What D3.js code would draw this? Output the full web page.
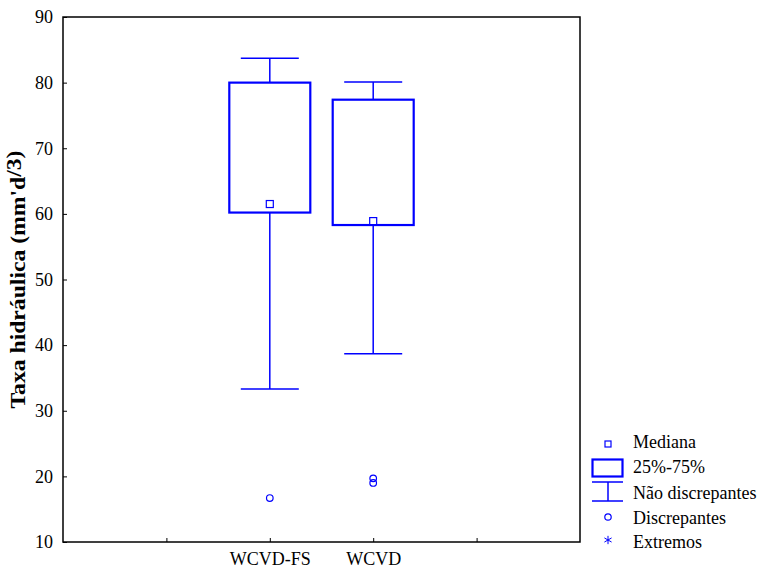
<!DOCTYPE html>
<html>
<head>
<meta charset="utf-8">
<script src="https://cdn.jsdelivr.net/npm/d3@7"></script>
<style>
  body { margin: 0; background: #fff; }
  text { font-family: "Liberation Serif", "Times New Roman", serif; }
</style>
</head>
<body>
<svg id="chart" width="765" height="571"></svg>
<script>
// dados
var categories = ['WCVD-FS', 'WCVD'];
var medians   = [61.5, 58.9];
var q1        = [60.2, 58.3];
var q3        = [80.0, 77.4];
var whiskLow  = [33.3, 38.7];
var whiskHigh = [83.7, 80.1];
var outliers  = [[16.7], [19.7, 19.0]];
var yTicks    = [10, 20, 30, 40, 50, 60, 70, 80, 90];
var legendLabels = ['Mediana', '25%-75%', 'Não discrepantes', 'Discrepantes', 'Extremos'];

var blue = '#0000ff';
var svg = d3.select('#chart');
var pLeft = 63, pRight = 580, pTop = 17, pBottom = 542;

var y = d3.scaleLinear().domain([10, 90]).range([pBottom, pTop]);
// 5 slots, categories sit at the 2nd and 3rd ticks
var x = d3.scaleLinear().domain([0, 5]).range([pLeft, pRight]);
var catPos = function(i) { return x(i + 2); };

// frame
svg.append('rect')
  .attr('x', pLeft).attr('y', pTop)
  .attr('width', pRight - pLeft).attr('height', pBottom - pTop)
  .attr('fill', 'none').attr('stroke', '#000').attr('stroke-width', 1.5);

// y axis (ticks inside)
var yAxis = d3.axisLeft(y).tickValues(yTicks).tickSizeInner(-4).tickSizeOuter(0).tickPadding(10);
var gy = svg.append('g').attr('transform', 'translate(' + pLeft + ',0)').call(yAxis);
gy.select('.domain').remove();
gy.selectAll('line').attr('stroke', '#000');
gy.selectAll('text').attr('font-size', 18).attr('fill', '#000')
  .attr('font-family', '"Liberation Serif", serif');

// x axis (ticks inside)
var xAxis = d3.axisBottom(x).tickValues([1, 2, 3, 4]).tickSizeInner(-4).tickSizeOuter(0).tickPadding(10)
  .tickFormat(function(d) { return categories[d - 2] || ''; });
var gx = svg.append('g').attr('transform', 'translate(0,' + pBottom + ')').call(xAxis);
gx.select('.domain').remove();
gx.selectAll('line').attr('stroke', '#000');
gx.selectAll('text').attr('font-size', 18).attr('fill', '#000')
  .attr('font-family', '"Liberation Serif", serif');

// y label
var yl = svg.append('text')
  .attr('transform', 'translate(25,' + ((pTop + pBottom) / 2) + ') rotate(-90)')
  .attr('text-anchor', 'middle')
  .attr('font-size', 22).attr('font-weight', 'bold')
  .attr('textLength', 258).attr('lengthAdjust', 'spacingAndGlyphs');
yl.append('tspan').text("Taxa hidráulica (mm'd");
yl.append('tspan').attr('dy', -4).text('/3)');

// boxes
var boxW = 81, capW = 58;
var groups = svg.selectAll('g.box').data(categories).enter().append('g').attr('class', 'box');

groups.append('line')
  .attr('x1', function(d, i) { return catPos(i); })
  .attr('x2', function(d, i) { return catPos(i); })
  .attr('y1', function(d, i) { return y(whiskHigh[i]); })
  .attr('y2', function(d, i) { return y(q3[i]); })
  .attr('stroke', blue).attr('stroke-width', 1.5);
groups.append('line')
  .attr('x1', function(d, i) { return catPos(i); })
  .attr('x2', function(d, i) { return catPos(i); })
  .attr('y1', function(d, i) { return y(q1[i]); })
  .attr('y2', function(d, i) { return y(whiskLow[i]); })
  .attr('stroke', blue).attr('stroke-width', 1.5);
[whiskHigh, whiskLow].forEach(function(arr) {
  groups.append('line')
    .attr('x1', function(d, i) { return catPos(i) - capW / 2; })
    .attr('x2', function(d, i) { return catPos(i) + capW / 2; })
    .attr('y1', function(d, i) { return y(arr[i]); })
    .attr('y2', function(d, i) { return y(arr[i]); })
    .attr('stroke', blue).attr('stroke-width', 1.5);
});
groups.append('rect')
  .attr('x', function(d, i) { return catPos(i) - boxW / 2; })
  .attr('y', function(d, i) { return y(q3[i]); })
  .attr('width', boxW)
  .attr('height', function(d, i) { return y(q1[i]) - y(q3[i]); })
  .attr('fill', 'none').attr('stroke', blue).attr('stroke-width', 2.2);
groups.append('rect')
  .attr('x', function(d, i) { return catPos(i) - 3.5; })
  .attr('y', function(d, i) { return y(medians[i]) - 3.5; })
  .attr('width', 7).attr('height', 7)
  .attr('fill', '#fff').attr('stroke', blue).attr('stroke-width', 1.2);
groups.each(function(d, i) {
  d3.select(this).selectAll('circle').data(outliers[i]).enter().append('circle')
    .attr('cx', catPos(i)).attr('cy', function(v) { return y(v); })
    .attr('r', 3.3).attr('fill', 'none').attr('stroke', blue).attr('stroke-width', 1.2);
});

// legend
var lg = svg.append('g');
var sx = 608, rowY = [444, 468, 492, 517, 540];
lg.append('rect').attr('x', sx - 3).attr('y', rowY[0] - 3).attr('width', 6).attr('height', 6)
  .attr('fill', 'none').attr('stroke', blue).attr('stroke-width', 1.2);
lg.append('rect').attr('x', 592.5).attr('y', 459.5).attr('width', 30).attr('height', 17)
  .attr('fill', 'none').attr('stroke', blue).attr('stroke-width', 2.2);
lg.append('line').attr('x1', 592).attr('x2', 623).attr('y1', 482).attr('y2', 482).attr('stroke', blue).attr('stroke-width', 1.5);
lg.append('line').attr('x1', 592).attr('x2', 623).attr('y1', 501).attr('y2', 501).attr('stroke', blue).attr('stroke-width', 1.5);
lg.append('line').attr('x1', sx).attr('x2', sx).attr('y1', 482).attr('y2', 501).attr('stroke', blue).attr('stroke-width', 1.5);
lg.append('circle').attr('cx', sx).attr('cy', rowY[3]).attr('r', 3.2)
  .attr('fill', 'none').attr('stroke', blue).attr('stroke-width', 1.2);
lg.append('path').attr('d', d3.symbol(d3.symbolAsterisk, 48)())
  .attr('transform', 'translate(' + sx + ',' + rowY[4] + ')')
  .attr('stroke', blue).attr('stroke-width', 1).attr('fill', 'none');
lg.selectAll('text.leg').data(legendLabels).enter().append('text')
  .attr('class', 'leg')
  .attr('x', 633).attr('y', function(d, i) { return [448, 473, 499, 524, 548][i]; })
  .attr('font-size', 18).attr('fill', '#000')
  .text(function(d) { return d; });
</script>
</body>
</html>
